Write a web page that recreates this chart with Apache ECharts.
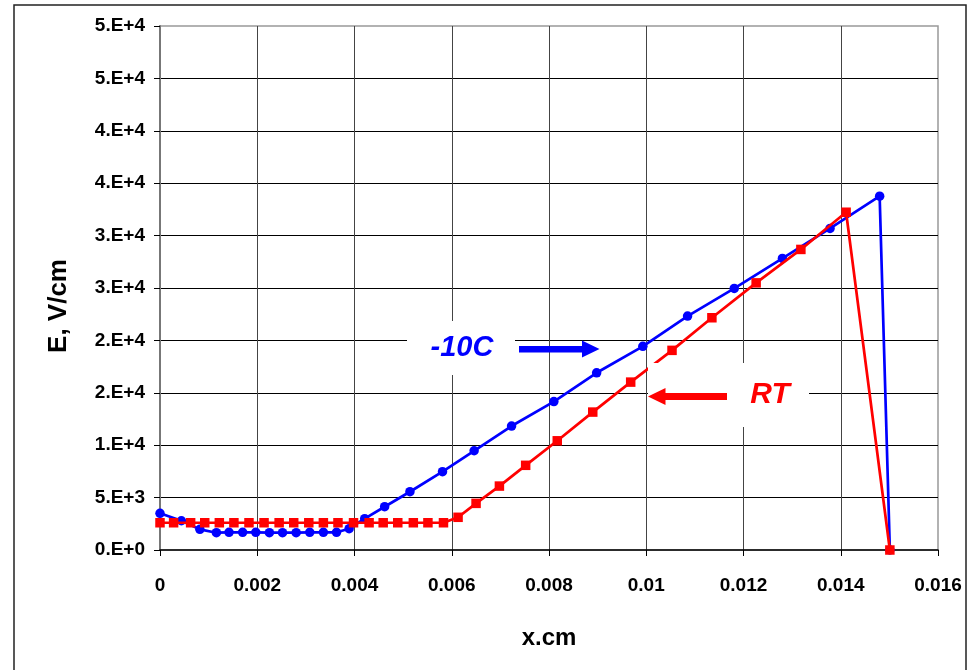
<!DOCTYPE html>
<html>
<head>
<meta charset="utf-8">
<style>
html,body{margin:0;padding:0;background:#fff;}
#chart{width:967px;height:670px;}
</style>
<script src="https://cdn.jsdelivr.net/npm/echarts@6/dist/echarts.min.js"></script>
</head>
<body>
<div id="chart"></div>
<script>
// ---- data ----
var xTickLabels = ['0', '0.002', '0.004', '0.006', '0.008', '0.01', '0.012', '0.014', '0.016'];
var yTickLabels = ['0.E+0', '5.E+3', '1.E+4', '2.E+4', '2.E+4', '3.E+4', '3.E+4', '4.E+4', '4.E+4', '5.E+4', '5.E+4'];

var coldX = [0, 0.00044, 0.00082, 0.00116, 0.00142, 0.0017, 0.00197, 0.00225, 0.00252, 0.0028, 0.00308, 0.00336, 0.00363, 0.00389, 0.00421, 0.00462, 0.00514, 0.00581, 0.00646, 0.00723, 0.0081, 0.00898, 0.00993, 0.01085, 0.01181, 0.0128, 0.01378, 0.0148, 0.01501];
var coldE = [3500, 2790, 1970, 1650, 1690, 1690, 1690, 1650, 1650, 1650, 1690, 1690, 1690, 2030, 2990, 4130, 5560, 7470, 9470, 11830, 14160, 16910, 19430, 22320, 24960, 27820, 30680, 33760, 0];

var rtX = [0, 0.00028, 0.00063, 0.00092, 0.00122, 0.00152, 0.00183, 0.00214, 0.00245, 0.00275, 0.00306, 0.00336, 0.00366, 0.00398, 0.0043, 0.00459, 0.00489, 0.00521, 0.00551, 0.00583, 0.00613, 0.0065, 0.00698, 0.00752, 0.00817, 0.0089, 0.00968, 0.01053, 0.01135, 0.01226, 0.01318, 0.01411, 0.01501];
var rtE = [2600, 2600, 2600, 2600, 2600, 2600, 2600, 2600, 2600, 2600, 2600, 2600, 2600, 2600, 2600, 2600, 2600, 2600, 2600, 2600, 3120, 4450, 6100, 8080, 10420, 13160, 16020, 19050, 22160, 25490, 28680, 32230, 0];

var seriesNames = ['-10C', 'RT'];

function pairs(xs, ys) { return xs.map(function (x, i) { return [x, ys[i]]; }); }

var FONT = '"Liberation Sans", Arial, sans-serif';
var chart = echarts.init(document.getElementById('chart'), null, { renderer: 'canvas' });

chart.setOption({
  animation: false,
  backgroundColor: '#fff',
  grid: { left: 160, right: 29, top: 26, bottom: 120, show: true, borderColor: '#999', borderWidth: 1.5, backgroundColor: 'transparent' },
  xAxis: {
    type: 'value', min: 0, max: 0.016, interval: 0.002,
    name: 'x.cm', nameLocation: 'middle', nameGap: 76,
    nameTextStyle: { fontFamily: FONT, fontWeight: 'bold', fontSize: 24, color: '#000' },
    axisLine: { show: true, onZero: false, lineStyle: { color: '#000', width: 1.5 } },
    axisTick: { show: true, inside: false, length: 6, lineStyle: { color: '#000', width: 1 } },
    axisLabel: { margin: 26, fontFamily: FONT, fontWeight: 'bold', fontSize: 19, color: '#000',
      formatter: function (v) { return xTickLabels[Math.round(v / 0.002)]; } },
    splitLine: { show: true, showMinLine: false, showMaxLine: false, lineStyle: { color: '#444', width: 1 } }
  },
  yAxis: {
    type: 'value', min: 0, max: 50000, interval: 5000,
    name: 'E, V/cm', nameLocation: 'middle', nameGap: 88, nameRotate: 90,
    nameTextStyle: { fontFamily: FONT, fontWeight: 'bold', fontSize: 26, color: '#000', padding: [0, 36, 0, 0] },
    axisLine: { show: true, lineStyle: { color: '#777', width: 2 } },
    axisTick: { show: true, inside: false, length: 6, lineStyle: { color: '#000', width: 1 } },
    axisLabel: { margin: 15, fontFamily: FONT, fontWeight: 'bold', fontSize: 19, color: '#000',
      formatter: function (v) { return yTickLabels[Math.round(v / 5000)]; } },
    splitLine: { show: true, showMinLine: false, showMaxLine: false, lineStyle: { color: '#000', width: 1 } }
  },
  series: [
    {
      name: seriesNames[0], type: 'line', data: pairs(coldX, coldE),
      symbol: 'circle', symbolSize: 9.5, clip: false,
      lineStyle: { color: '#0000ff', width: 2.7 },
      itemStyle: { color: '#0000ff' }, z: 3
    },
    {
      name: seriesNames[1], type: 'line', data: pairs(rtX, rtE),
      symbol: 'rect', symbolSize: 9.5, clip: false,
      lineStyle: { color: '#ff0000', width: 2.7 },
      itemStyle: { color: '#ff0000' }, z: 4
    }
  ],
  graphic: [
    { type: 'rect', shape: { x: 14, y: 5, width: 952, height: 680 }, style: { fill: 'none', stroke: '#222', lineWidth: 1.5 }, z: 0, silent: true },
    // -10C label
    { type: 'rect', shape: { x: 407, y: 321, width: 108, height: 54 }, style: { fill: '#fff' }, z: 10 },
    { type: 'text', x: 462, y: 348, style: { text: seriesNames[0], fill: '#0000ff', font: 'italic bold 29px ' + FONT, align: 'center', verticalAlign: 'middle' }, z: 11 },
    { type: 'rect', shape: { x: 519, y: 346, width: 65, height: 6.5 }, style: { fill: '#0000ff' }, z: 11 },
    { type: 'polygon', shape: { points: [[582, 340.5], [599.5, 349], [582, 357.5]] }, style: { fill: '#0000ff' }, z: 11 },
    // RT label
    { type: 'rect', shape: { x: 648, y: 363, width: 161, height: 64 }, style: { fill: '#fff' }, z: 10 },
    { type: 'text', x: 770, y: 395, style: { text: seriesNames[1], fill: '#ff0000', font: 'italic bold 30px ' + FONT, align: 'center', verticalAlign: 'middle' }, z: 11 },
    { type: 'rect', shape: { x: 663, y: 393, width: 64, height: 7 }, style: { fill: '#ff0000' }, z: 11 },
    { type: 'polygon', shape: { points: [[648, 396.5], [665.5, 388], [665.5, 405]] }, style: { fill: '#ff0000' }, z: 11 }
  ]
});
</script>
</body>
</html>
